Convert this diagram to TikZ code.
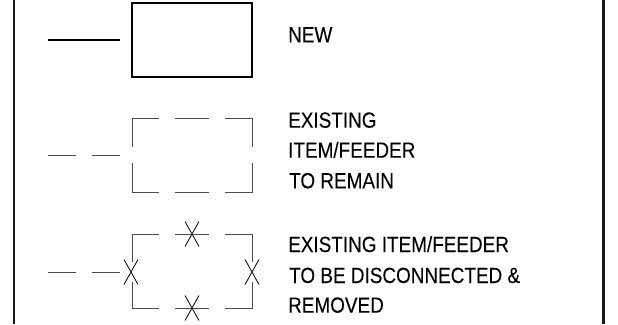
\documentclass[tikz,border=0pt]{standalone}
\usepackage{fontspec}
\setmainfont{Liberation Sans}
\newfontfamily\lbl[FakeStretch=0.86,FakeBold=0.05]{Liberation Sans}
\tikzset{
  x=1pt,y=-1pt,
  border/.style={line width=2.2pt,black!90},
  heavy/.style={line width=2.9pt,black},
  thin line/.style={line width=0.9pt,black!70},
  crossing/.style={line width=0.8pt,black},
  lbl/.style={anchor=base west,inner sep=0pt,font=\lbl\fontsize{22}{22}\selectfont,text=black}
}
\begin{document}
\begin{tikzpicture}
\useasboundingbox (0,0) rectangle (618,324);
\coordinate (bl1) at (14,0); \coordinate (bl2) at (14,324);
\coordinate (br1) at (603.5,0); \coordinate (br2) at (603.5,324);
\draw[border] (bl1) -- (bl2);
\draw[border] (br1) -- (br2);
% NEW
\node[draw,heavy,minimum width=120pt,minimum height=74pt,inner sep=0pt] (newbox) at (192,40) {};
\coordinate (n1) at (48,40); \coordinate (n2) at (120,40);
\draw[heavy] (n1) -- (n2);
% EXISTING
\draw[thin line] (48,155) -- (76,155) (92,155) -- (120,155);
\draw[thin line] (132,147) -- (132,118) -- (159,118) (175,118) -- (209,118) (225,118) -- (252,118) -- (252,147);
\draw[thin line] (132,163) -- (132,192) -- (159,192) (175,192) -- (209,192) (225,192) -- (252,192) -- (252,163);
% REMOVED
\draw[thin line] (48,272) -- (76,272) (92,272) -- (120,272);
\draw[thin line] (132,262) -- (132,234) -- (159,234) (175,234) -- (209,234) (225,234) -- (252,234) -- (252,262);
\draw[thin line] (132,282) -- (132,308) -- (159,308) (175,308) -- (209,308) (225,308) -- (252,308) -- (252,282);
\foreach \cx/\cy in {131/272,252/272,192/234,192/308}{
  \draw[crossing] (\cx-7,\cy-12.5) -- (\cx+7,\cy+12.5) (\cx+7,\cy-12.5) -- (\cx-7,\cy+12.5);
}
% labels
\node[lbl] (t1) at (288,42.3) {NEW};
\node[lbl] (t2) at (288,127.7) {EXISTING};
\node[lbl] (t3) at (288,157.7) {ITEM/FEEDER};
\node[lbl] (t4) at (289,188.3) {TO REMAIN};
\node[lbl] (t5) at (288,252) {EXISTING ITEM/FEEDER};
\node[lbl] (t6) at (289,283) {TO BE DISCONNECTED \&};
\node[lbl] (t7) at (288,312.7) {REMOVED};
\end{tikzpicture}
\end{document}
